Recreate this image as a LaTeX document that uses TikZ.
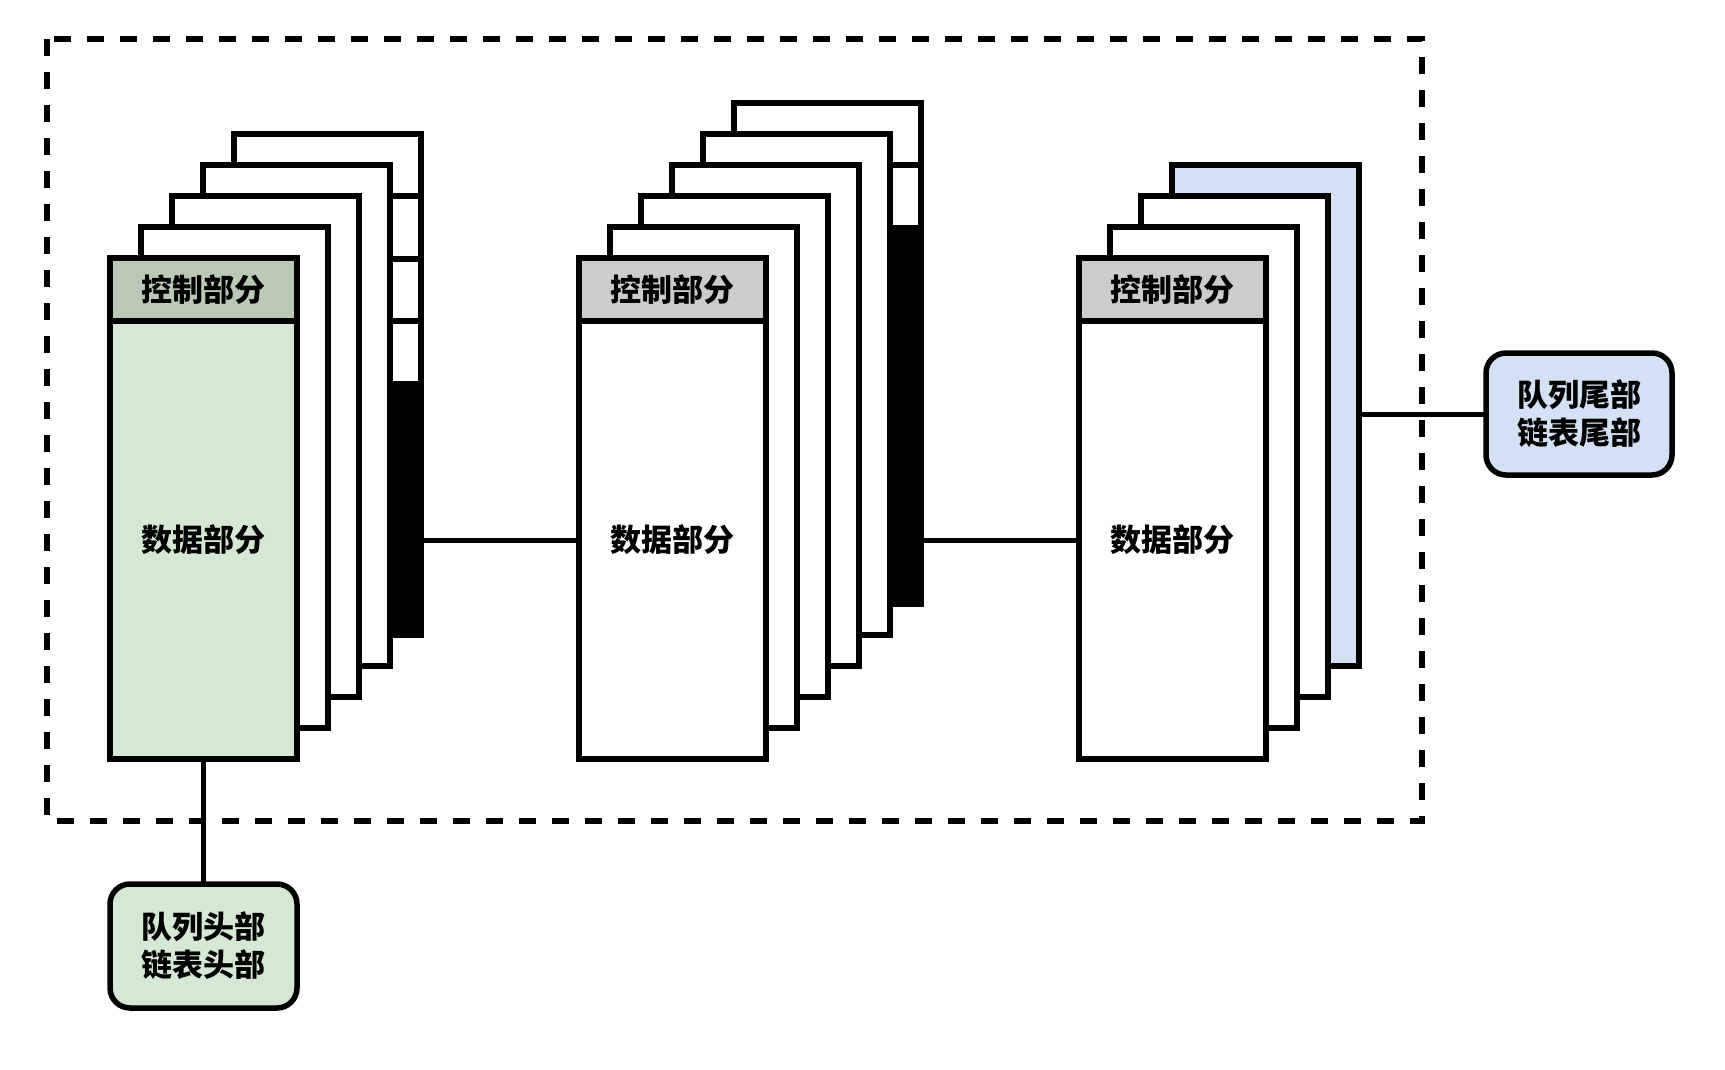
\documentclass[tikz,border=0pt]{standalone}
\usepackage{fontspec}
\setmainfont{Noto Sans CJK SC}
\usetikzlibrary{fit}
\definecolor{greenfill}{HTML}{D5E8D4}
\definecolor{greenctrl}{HTML}{B9C9B6}
\definecolor{grayctrl}{HTML}{CCCCCC}
\definecolor{bluefill}{HTML}{D4E1F5}
\tikzset{
  layer/.style={draw=black, line width=2.75pt, fill=white, inner sep=0pt, outer sep=0pt},
  ctrl/.style={layer, fill=grayctrl},
  labelbox/.style={layer, rounded corners=10pt},
  txt/.style={font=\fontsize{15.5pt}{19pt}\selectfont\bfseries, align=center, inner sep=0pt},
  conn/.style={draw=black, line width=2.5pt},
  frame/.style={draw=black, line width=2.6pt, dash pattern=on 8.5pt off 8pt},
  colline/.style={draw=black, line width=2.75pt}
}
\begin{document}
\begin{tikzpicture}[x=0.5pt,y=-0.5pt]
\useasboundingbox (0,0) rectangle (1725,1070);
% dashed frame
\draw[frame] (47,39) rectangle (1422,821);

% ---------- stack 1 ----------
\foreach \k in {4,3,2,1}{
  \node[layer, fit={({110+31*\k},{258-31*\k}) ({297+31*\k},{759-31*\k})}] (a\k) {};
  \ifnum\k=4
    \fill[black] (234,381) rectangle (421,635);
    \draw[colline] (234,196) -- (421,196);
    \draw[colline] (234,259) -- (421,259);
    \draw[colline] (234,321) -- (421,321);
    \draw[line width=2.75pt] (234,134) rectangle (421,635);
  \fi
}
\node[layer, fill=greenfill, fit={(110,321) (297,759)}] (a0d) {};
\node[layer, fill=greenctrl, fit={(110,258) (297,321)}] (a0c) {};
\node[txt] (a0dt) at (a0d.center) {数据部分};
\node[txt] (a0ct) at (a0c.center) {控制部分};

% ---------- stack 2 ----------
\foreach \k in {5,4,3,2,1}{
  \node[layer, fit={({579+31*\k},{258-31*\k}) ({766+31*\k},{759-31*\k})}] (b\k) {};
  \ifnum\k=5
    \fill[black] (734,225) rectangle (921,604);
    \draw[colline] (734,165) -- (921,165);
    \draw[line width=2.75pt] (734,103) rectangle (921,604);
  \fi
}
\node[layer, fit={(579,321) (766,759)}] (b0d) {};
\node[ctrl, fit={(579,258) (766,321)}] (b0c) {};
\node[txt] (b0dt) at (b0d.center) {数据部分};
\node[txt] (b0ct) at (b0c.center) {控制部分};

% ---------- stack 3 ----------
\node[layer, fill=bluefill, fit={(1172,165) (1359,666)}] (c3) {};
\foreach \k in {2,1}{
  \node[layer, fit={({1079+31*\k},{258-31*\k}) ({1266+31*\k},{759-31*\k})}] (c\k) {};
}
\node[layer, fit={(1079,321) (1266,759)}] (c0d) {};
\node[ctrl, fit={(1079,258) (1266,321)}] (c0c) {};
\node[txt] (c0dt) at (c0d.center) {数据部分};
\node[txt] (c0ct) at (c0c.center) {控制部分};

% ---------- head / tail ----------
\node[labelbox, fill=greenfill, fit={(110,884) (297,1008)}] (head) {};
\node[txt] (headtxt) at (head.center) {队列头部\\链表头部};
\node[labelbox, fill=bluefill, fit={(1486,353) (1672,475)}] (tail) {};
\node[txt] (tailtxt) at (tail.center) {队列尾部\\链表尾部};

% ---------- connectors ----------
\draw[conn] (a4.east |- b0d.west) -- (b0d.west);
\draw[conn] (b5.east |- c0d.west) -- (c0d.west);
\draw[conn] (c3.east |- tail.west) -- (tail.west);
\draw[conn] (a0d.south) -- (head.north);
\end{tikzpicture}
\end{document}
